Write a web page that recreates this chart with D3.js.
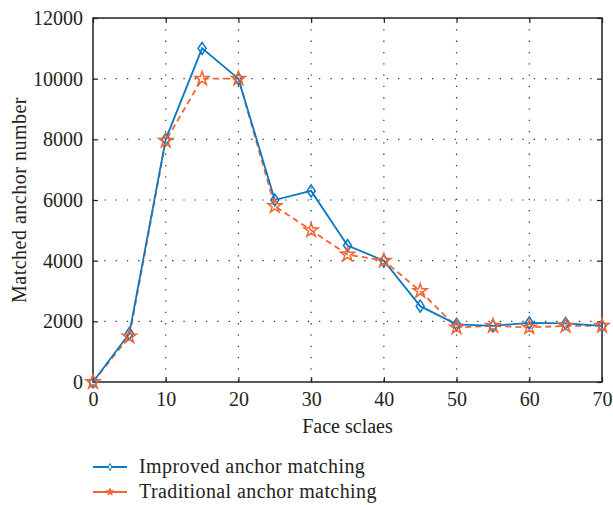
<!DOCTYPE html>
<meta charset="utf-8">
<style>
    body { margin: 0; background: #fff; }
    text { font-family: "Liberation Serif", "Times New Roman", serif; fill: #231f20; }
    .grid line { stroke: #333; stroke-width: 1.2px; stroke-dasharray: 1.3,10; }
</style>
<body>
<svg width="613" height="505"></svg>
</body>
<script src="https://d3js.org/d3.v7.min.js"></script>
<script>
    // face scales on the x axis
    var scales = [0, 5, 10, 15, 20, 25, 30, 35, 40, 45, 50, 55, 60, 65, 70];
    var improved = [0, 1600, 8000, 11000, 10000, 6000, 6300, 4500, 4000, 2500, 1900, 1850, 1950, 1930, 1850];
    var traditional = [0, 1500, 7950, 10000, 10000, 5800, 5000, 4200, 4000, 3000, 1800, 1850, 1800, 1850, 1850];
    var xTicks = [0, 10, 20, 30, 40, 50, 60, 70];
    var yTicks = [0, 2000, 4000, 6000, 8000, 10000, 12000];
    var seriesNames = ["Improved anchor matching", "Traditional anchor matching"];

    var blue = "#0a78c2", orange = "#f26430";

    var svg = d3.select("svg"),
        pl = 93, pr = 602, pt = 18, pb = 382;

    var x = d3.scaleLinear().domain([0, 70]).range([pl, pr]);
    var y = d3.scaleLinear().domain([0, 12000]).range([pb, pt]);

    // grid
    var grid = svg.append("g").attr("class", "grid");
    grid.selectAll(".gx").data(xTicks.slice(1, -1)).enter().append("line")
        .attr("x1", d => x(d)).attr("x2", d => x(d))
        .attr("y1", pt).attr("y2", pb);
    grid.selectAll(".gy").data(yTicks.slice(1, -1)).enter().append("line")
        .attr("x1", pl).attr("x2", pr)
        .attr("y1", d => y(d)).attr("y2", d => y(d));

    // axes, ticks inside
    var tk = 5;
    svg.append("g").attr("transform", "translate(0," + pb + ")")
        .call(d3.axisBottom(x).tickValues(xTicks).tickSizeInner(-tk).tickSizeOuter(0).tickPadding(10))
        .call(g => g.select(".domain").remove());
    svg.append("g").attr("transform", "translate(0," + pt + ")")
        .call(d3.axisTop(x).tickValues(xTicks).tickSizeInner(-tk).tickSizeOuter(0).tickFormat(""))
        .call(g => g.select(".domain").remove());
    svg.append("g").attr("transform", "translate(" + pl + ",0)")
        .call(d3.axisLeft(y).tickValues(yTicks).tickSizeInner(-tk).tickSizeOuter(0).tickPadding(10).tickFormat(d3.format("d")))
        .call(g => g.select(".domain").remove());
    svg.append("g").attr("transform", "translate(" + pr + ",0)")
        .call(d3.axisRight(y).tickValues(yTicks).tickSizeInner(-tk).tickSizeOuter(0).tickFormat(""))
        .call(g => g.select(".domain").remove());
    svg.selectAll(".tick line").attr("stroke", "#231f20").attr("stroke-width", 1.2);
    svg.selectAll(".tick text").style("font-family", "Liberation Serif, serif").style("font-size", "20px").attr("fill", "#231f20");

    svg.append("rect")
        .attr("x", pl).attr("y", pt)
        .attr("width", pr - pl).attr("height", pb - pt)
        .attr("fill", "none").attr("stroke", "#231f20").attr("stroke-width", 1.5);

    // lines
    var line = d3.line().x((d, i) => x(scales[i])).y(d => y(d));

    svg.append("path").datum(traditional)
        .attr("d", line).attr("fill", "none")
        .attr("stroke", orange).attr("stroke-width", 1.8)
        .attr("stroke-dasharray", "6,4");
    svg.append("path").datum(improved)
        .attr("d", line).attr("fill", "none")
        .attr("stroke", blue).attr("stroke-width", 1.8);

    var star = d3.symbol().type(d3.symbolStar).size(60);
    var diamond = "M0,-6L4,0L0,6L-4,0Z";

    svg.selectAll(".dm").data(improved).enter().append("path")
        .attr("transform", (d, i) => "translate(" + x(scales[i]) + "," + y(d) + ")")
        .attr("d", diamond)
        .attr("fill", "none").attr("stroke", blue).attr("stroke-width", 1.5);
    svg.selectAll(".st").data(traditional).enter().append("path")
        .attr("transform", (d, i) => "translate(" + x(scales[i]) + "," + y(d) + ")")
        .attr("d", star)
        .attr("fill", "none").attr("stroke", orange).attr("stroke-width", 1.5);

    // axis titles
    svg.append("text")
        .attr("x", (pl + pr) / 2).attr("y", 433)
        .attr("text-anchor", "middle").style("font-size", "20px")
        .text("Face sclaes");
    svg.append("text")
        .attr("transform", "translate(26," + (pt + pb) / 2 + ") rotate(-90)")
        .attr("text-anchor", "middle").style("font-size", "20px")
        .style("letter-spacing", "0.5px")
        .text("Matched anchor number");

    // legend
    var leg = svg.append("g");
    var colors = [blue, orange];
    var small = [d3.symbol().type(d3.symbolDiamond).size(14), d3.symbol().type(d3.symbolStar).size(16)];
    seriesNames.forEach(function (name, i) {
        var ly = 467 + i * 25;
        leg.append("line")
            .attr("x1", 93).attr("x2", 127).attr("y1", ly).attr("y2", ly)
            .attr("stroke", colors[i]).attr("stroke-width", 1.8);
        leg.append("path")
            .attr("transform", "translate(110," + ly + ")")
            .attr("d", small[i]())
            .attr("fill", i ? colors[i] : "#fff").attr("stroke", colors[i]).attr("stroke-width", 1);
        leg.append("text")
            .attr("x", 139).attr("y", ly + 6)
            .style("font-size", "20px")
            .style("letter-spacing", "0.4px")
            .text(name);
    });
</script>
